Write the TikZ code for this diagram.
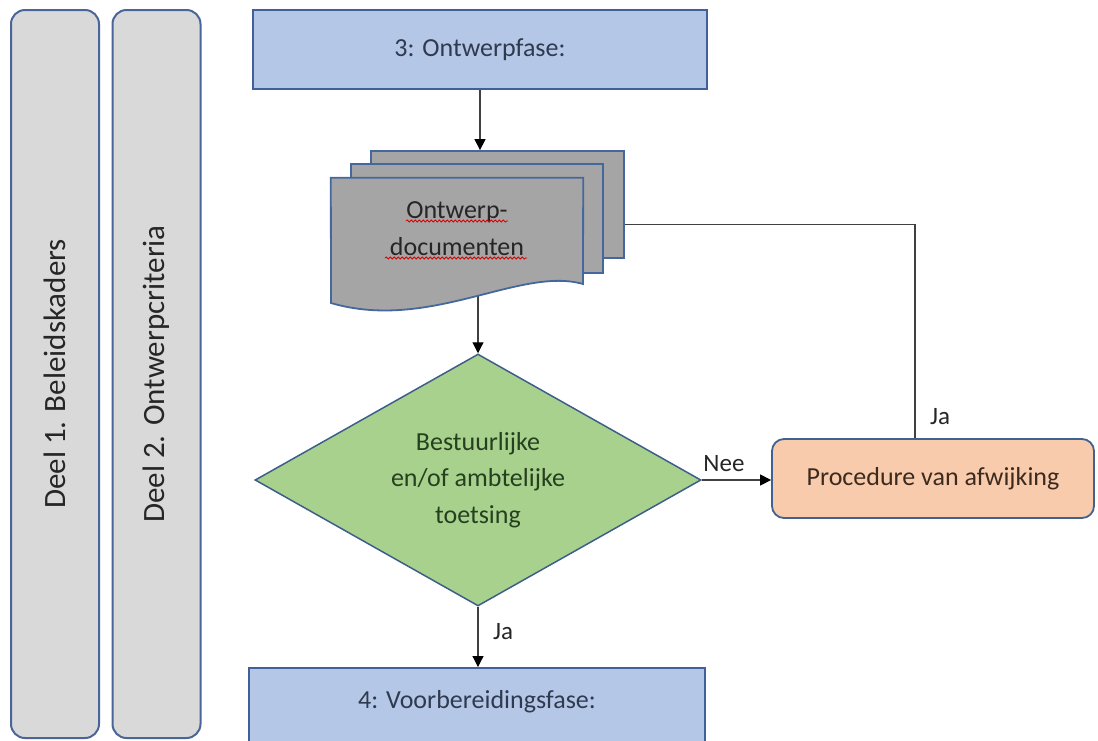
\documentclass[tikz,border=0pt]{standalone}
\usepackage{fontspec}
\setmainfont{Carlito}
\usetikzlibrary{shapes.geometric,arrows.meta,backgrounds,decorations.pathmorphing}
\definecolor{barfill}{HTML}{D9D9D9}
\definecolor{barline}{HTML}{4A6598}
\definecolor{phasefill}{HTML}{B4C7E7}
\definecolor{boxline}{HTML}{41609A}
\definecolor{docfill}{HTML}{A6A5A5}
\definecolor{docline}{HTML}{44679E}
\definecolor{diafill}{HTML}{A9D18E}
\definecolor{dialine}{HTML}{3E5E8A}
\definecolor{procfill}{HTML}{F8CBAD}
\definecolor{procline}{HTML}{41628F}
\definecolor{arrgray}{HTML}{404040}
\definecolor{txt}{HTML}{262626}
\definecolor{phasetext}{HTML}{2F3A4F}
\definecolor{diatext}{HTML}{25401E}
\definecolor{proctext}{HTML}{3D2A1E}
\begin{document}
\begin{tikzpicture}[x=1pt,y=-1pt,
  bar/.style={draw=barline, line width=2pt, fill=barfill, rounded corners=14pt,
    minimum width=728pt, minimum height=88pt, rotate=90, inner sep=0pt,
    font=\fontsize{31}{36}\selectfont, text=txt},
  phase/.style={draw=boxline, line width=2pt, fill=phasefill, inner sep=0pt,
    font=\fontsize{26}{30}\selectfont, text=phasetext},
  docpage/.style={draw=docline, line width=1.8pt, fill=docfill, inner sep=0pt},
  decision/.style={diamond, draw=dialine, line width=1.5pt, fill=diafill, aspect=1.77,
    inner sep=0pt, align=center, text=diatext, font=\fontsize{26}{36.5}\selectfont},
  procbox/.style={draw=procline, line width=1.8pt, fill=procfill, rounded corners=12pt,
    inner sep=0pt, text=proctext, font=\fontsize{26}{30}\selectfont},
  arr/.style={draw=arrgray, line width=1.2pt, -{Triangle[length=11pt,width=11pt,color=black]}},
  conn/.style={draw=arrgray, line width=1.2pt},
  lbl/.style={font=\fontsize{25}{28}\selectfont, text=txt, inner sep=0pt},
  spell/.style={draw=red!85!black, line width=0.8pt, decorate,
    decoration={snake, amplitude=1.1pt, segment length=4pt}}
]
\useasboundingbox (0,0) rectangle (1098,740);
\clip (0,0) rectangle (1098,740);

% side bars
\node[bar] (bar1) at (55,374) {Deel 1. Beleidskaders};
\node[bar] (bar2) at (156.5,374) {Deel 2. Ontwerpcriteria};

% phase boxes
\node[phase, minimum width=454pt, minimum height=79pt] (top) at (480,49.5) {3: Ontwerpfase:};
\node[phase, minimum width=456pt, minimum height=92pt] (bot) at (477,714) {};
\node[font=\fontsize{26}{30}\selectfont, text=phasetext, inner sep=0pt] (botlabel) at (477,702) {4: Voorbereidingsfase:};

% document stack
\node[docpage, minimum width=253pt, minimum height=107pt] (doc3) at (497.5,204.5) {};
\node[docpage, minimum width=252pt, minimum height=109pt] (doc2) at (477,218.5) {};
\node[inner sep=0pt, minimum width=252pt, minimum height=122pt] (docf) at (457,239) {};
\path[docpage] (docf.north west) -- (docf.north east) -- (583,284)
  .. controls (520,266) and (430,332) .. (331,303) -- cycle;
\node[align=center, inner sep=0pt, text=txt, font=\fontsize{26}{37}\selectfont] (doct) at (457,229)
  {Ontwerp-\\documenten};
\draw[spell] (406,221) -- (508,221);
\draw[spell] (385,258) -- (527,258);

% decision
\node[decision, minimum width=446pt, minimum height=252pt] (dia) at (478,480)
  {Bestuurlijke\\en/of ambtelijke\\toetsing};

% procedure
\node[procbox, minimum width=322pt, minimum height=79pt] (proc) at (933,478.5) {Procedure van afwijking};

% labels
\node[lbl] (nee) at (724,464) {Nee};
\node[lbl] (ja1) at (940,417) {Ja};
\node[lbl] (ja2) at (503,632) {Ja};

% connectors
\begin{pgfonlayer}{background}
\draw[arr] (top.south) -- (top.south |- doc3.north);
\draw[arr] (dia.north |- docf.center) -- (dia.north);
\draw[arr] (dia.east) -- (dia.east -| proc.west);
\draw[arr] (dia.south) -- (dia.south |- bot.north);
\draw[conn] ([yshift=-20pt]doc3.east) -| ([xshift=-18pt]proc.north);
\end{pgfonlayer}
\end{tikzpicture}
\end{document}
